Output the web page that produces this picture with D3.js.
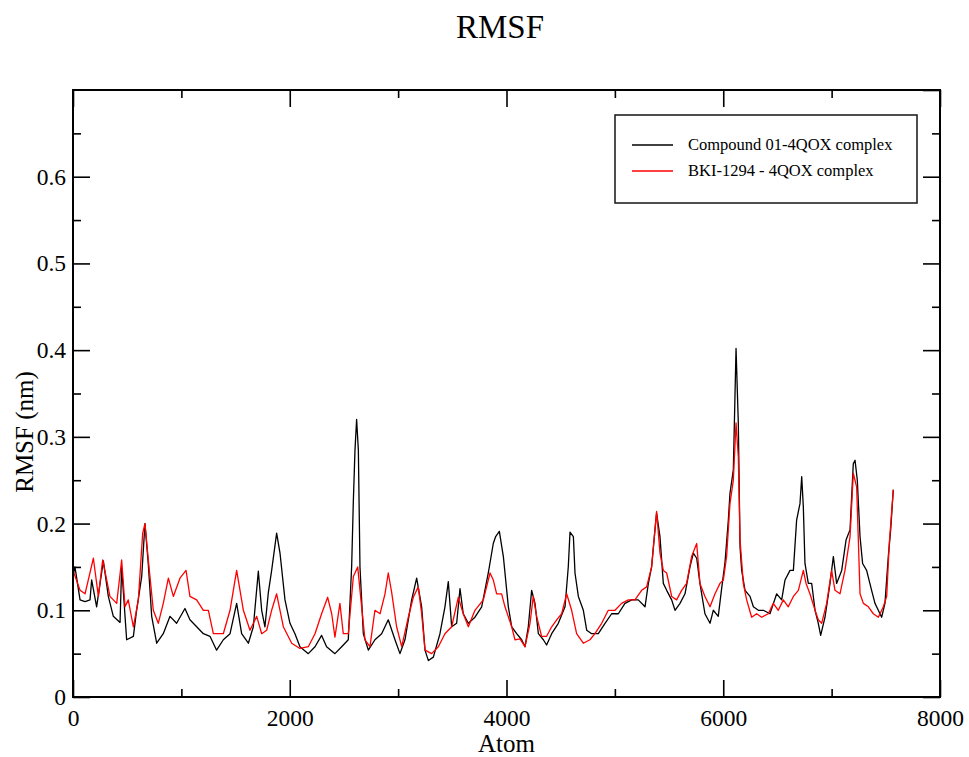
<!DOCTYPE html>
<html>
<head>
<meta charset="utf-8">
<script src="https://cdn.jsdelivr.net/npm/d3@7"></script>
<style>
    body { margin: 0; background: #fff; }
    svg text { font-family: "Liberation Serif", "DejaVu Serif", serif; fill: #000; }
</style>
</head>
<body>
<div id="chart"></div>
<script>
// [atom, rmsf (nm)]
const compound01 = [
    [0,0.140],[18,0.150],[65,0.112],[111,0.110],[157,0.112],[172,0.135],[218,0.104],[280,0.157],[326,0.116],[372,0.093],
    [434,0.086],[449,0.150],[495,0.066],[557,0.070],[587,0.100],[634,0.139],[664,0.200],[695,0.153],[726,0.093],[772,0.062],
    [833,0.073],[895,0.093],[956,0.085],[1033,0.102],[1079,0.089],[1141,0.081],[1203,0.073],[1264,0.070],[1325,0.054],[1387,0.066],
    [1449,0.073],[1510,0.108],[1556,0.073],[1618,0.062],[1664,0.081],[1710,0.145],[1741,0.100],[1771,0.081],[1802,0.120],[1833,0.146],
    [1879,0.189],[1910,0.166],[1956,0.112],[2002,0.085],[2048,0.073],
    [2094,0.058],[2171,0.050],[2233,0.058],[2294,0.071],[2340,0.058],[2417,0.050],[2479,0.058],[2540,0.066],[2571,0.150],[2587,0.227],
    [2602,0.285],[2617,0.320],[2633,0.285],[2648,0.150],[2679,0.073],[2725,0.054],[2786,0.066],[2848,0.073],[2909,0.089],[2971,0.066],
    [3017,0.050],[3063,0.066],[3125,0.112],[3171,0.137],[3217,0.104],[3248,0.054],[3279,0.042],[3325,0.046],[3386,0.073],[3432,0.104],
    [3463,0.133],[3494,0.081],[3540,0.085],[3571,0.125],[3601,0.096],[3648,0.085],[3709,0.092],[3771,0.104],[3832,0.143],[3878,0.177],
    [3900,0.185],[3934,0.191],[3971,0.162],[4017,0.104],
    [4048,0.081],[4094,0.073],[4140,0.066],[4171,0.058],[4201,0.081],[4232,0.123],[4263,0.108],[4294,0.073],[4340,0.066],[4370,0.060],
    [4417,0.073],[4478,0.085],[4540,0.104],[4570,0.150],[4586,0.190],[4617,0.185],[4632,0.143],[4663,0.116],[4709,0.100],[4740,0.077],
    [4786,0.073],[4847,0.073],[4909,0.085],[4970,0.096],[5032,0.096],[5093,0.108],[5155,0.112],[5216,0.112],[5278,0.104],[5309,0.131],
    [5339,0.150],[5370,0.193],[5385,0.212],[5416,0.185],[5447,0.131],[5478,0.123],[5524,0.112],[5555,0.100],[5601,0.108],[5647,0.119],
    [5693,0.150],[5724,0.166],[5755,0.160],[5785,0.131],[5831,0.096],[5878,0.085],[5908,0.100],[5954,0.093],[5985,0.125],[6016,0.155],
    [6047,0.204],
    [6062,0.235],[6093,0.262],[6108,0.346],[6118,0.402],[6139,0.316],[6155,0.173],[6170,0.146],[6201,0.123],[6247,0.116],[6278,0.104],
    [6324,0.100],[6370,0.100],[6431,0.096],[6493,0.119],[6539,0.112],[6570,0.135],[6616,0.146],[6647,0.146],[6677,0.204],[6708,0.223],
    [6724,0.254],[6739,0.219],[6754,0.154],[6785,0.131],[6816,0.131],[6847,0.100],[6877,0.085],[6899,0.071],[6939,0.092],[6985,0.131],
    [7016,0.162],[7046,0.131],[7093,0.146],[7133,0.181],[7170,0.193],[7200,0.269],[7216,0.273],[7237,0.250],[7262,0.185],[7286,0.154],
    [7323,0.146],[7369,0.123],[7400,0.108],[7431,0.100],[7462,0.092],[7492,0.108],[7523,0.162],[7545,0.193],[7569,0.239]
];

const bki1294 = [
    [0,0.146],[65,0.123],[111,0.119],[188,0.160],[234,0.116],[274,0.158],[341,0.116],[403,0.108],[449,0.158],[480,0.104],
    [510,0.112],[557,0.081],[603,0.112],[643,0.189],[664,0.200],[695,0.158],[741,0.100],[787,0.085],[833,0.108],[880,0.137],
    [926,0.116],[987,0.137],[1043,0.146],[1079,0.116],[1141,0.112],[1203,0.100],[1249,0.100],[1295,0.073],[1387,0.073],[1449,0.100],
    [1510,0.146],[1572,0.100],[1633,0.077],[1695,0.093],[1741,0.073],[1787,0.077],[1833,0.100],[1879,0.119],[1941,0.081],[2018,0.062],
    [2094,0.056],[2171,0.058],[2233,0.073],[2294,0.096],[2350,0.115],[2387,0.096],[2417,0.069],[2463,0.108],[2494,0.073],[2540,0.073],
    [2587,0.139],[2627,0.150],[2657,0.112],[2694,0.066],[2740,0.058],[2786,0.100],[2833,0.096],[2879,0.119],[2909,0.143],[2940,0.121],
    [2986,0.081],[3033,0.058],[3094,0.092],[3140,0.115],[3186,0.127],[3217,0.096],[3248,0.054],[3309,0.050],[3371,0.058],[3432,0.073],
    [3494,0.081],[3555,0.115],[3601,0.096],[3648,0.081],[3709,0.100],[3786,0.112],[3848,0.143],[3878,0.135],[3909,0.119],[3955,0.119],
    [3986,0.104],
    [4048,0.081],[4078,0.066],[4124,0.067],[4171,0.058],[4217,0.085],[4247,0.116],[4278,0.093],[4324,0.070],[4370,0.070],[4417,0.081],
    [4463,0.089],[4509,0.096],[4555,0.119],[4601,0.100],[4647,0.073],[4709,0.062],[4770,0.066],[4816,0.073],[4878,0.085],[4939,0.100],
    [5001,0.100],[5062,0.108],[5124,0.112],[5185,0.112],[5247,0.123],[5293,0.127],[5339,0.150],[5385,0.214],[5416,0.166],[5447,0.146],
    [5478,0.143],[5524,0.116],[5570,0.112],[5616,0.123],[5662,0.131],[5708,0.162],[5755,0.177],[5785,0.131],[5831,0.116],[5878,0.104],
    [5924,0.119],[5970,0.131],[6001,0.135],[6031,0.162],
    [6062,0.223],[6093,0.250],[6118,0.316],[6139,0.277],[6155,0.181],[6185,0.131],[6216,0.112],[6262,0.092],[6308,0.096],[6354,0.092],
    [6416,0.096],[6462,0.108],[6508,0.100],[6554,0.112],[6600,0.104],[6647,0.116],[6693,0.123],[6739,0.146],[6764,0.131],[6800,0.119],
    [6847,0.100],[6877,0.089],[6908,0.085],[6954,0.108],[7000,0.146],[7031,0.123],[7077,0.119],[7123,0.146],[7170,0.185],[7200,0.258],
    [7231,0.242],[7262,0.119],[7293,0.108],[7339,0.104],[7385,0.096],[7431,0.092],[7477,0.104],[7508,0.116],[7532,0.177],[7569,0.239]
];

const seriesNames = ["Compound 01-4QOX complex", "BKI-1294 - 4QOX complex"];
const seriesColors = ["#000000", "#ff0000"];

const xMajor = [0, 2000, 4000, 6000, 8000];
const xMinor = [1000, 3000, 5000, 7000];
const yMajor = [0, 0.1, 0.2, 0.3, 0.4, 0.5, 0.6];
const yMinor = [0.05, 0.15, 0.25, 0.35, 0.45, 0.55, 0.65];

const W = 969, H = 757;
const margin = { top: 90, right: 29, bottom: 60, left: 73 };
const width = W - margin.left - margin.right;
const height = H - margin.top - margin.bottom;

const svg = d3.select("#chart")
    .append("svg")
    .attr("width", W)
    .attr("height", H);

// title
svg.append("text")
    .attr("x", 500)
    .attr("y", 38)
    .attr("text-anchor", "middle")
    .style("font-size", "33px")
    .text("RMSF");

const g = svg.append("g")
    .attr("transform", `translate(${margin.left}, ${margin.top})`);

const xScale = d3.scaleLinear().domain([0, 8000]).range([0, width]);
const yScale = d3.scaleLinear().domain([0, 0.7]).range([height, 0]);

// lines (black under red)
const line = d3.line()
    .x(d => xScale(d[0]))
    .y(d => yScale(d[1]));

[compound01, bki1294].forEach((s, i) => {
    g.append("path")
        .datum(s)
        .attr("fill", "none")
        .attr("stroke", seriesColors[i])
        .attr("stroke-width", 1.3)
        .attr("stroke-linejoin", "round")
        .attr("d", line);
});

// axes: ticks point inward on all four sides
function styleAxis(sel, fontSize) {
    sel.select(".domain").remove();
    sel.selectAll("line").attr("stroke", "#000").attr("stroke-width", 1.6);
    sel.selectAll("text").style("font-size", fontSize).attr("fill", "#000");
}

const fmtY = d => d === 0 ? "0" : d3.format(".1f")(d);
const tickFont = "23.5px";

g.append("g")
    .attr("transform", `translate(0, ${height})`)
    .call(d3.axisBottom(xScale).tickValues(xMajor).tickFormat(d3.format("d")).tickSize(-17).tickPadding(12))
    .call(s => styleAxis(s, tickFont));
g.append("g")
    .attr("transform", `translate(0, ${height})`)
    .call(d3.axisBottom(xScale).tickValues(xMinor).tickFormat("").tickSize(-8))
    .call(s => styleAxis(s, tickFont));
g.append("g")
    .call(d3.axisTop(xScale).tickValues(xMajor).tickFormat("").tickSize(-17))
    .call(s => styleAxis(s, tickFont));
g.append("g")
    .call(d3.axisTop(xScale).tickValues(xMinor).tickFormat("").tickSize(-8))
    .call(s => styleAxis(s, tickFont));

g.append("g")
    .call(d3.axisLeft(yScale).tickValues(yMajor).tickFormat(fmtY).tickSize(-17).tickPadding(7))
    .call(s => styleAxis(s, tickFont));
g.append("g")
    .call(d3.axisLeft(yScale).tickValues(yMinor).tickFormat("").tickSize(-8))
    .call(s => styleAxis(s, tickFont));
g.append("g")
    .attr("transform", `translate(${width}, 0)`)
    .call(d3.axisRight(yScale).tickValues(yMajor.concat([0.7])).tickFormat("").tickSize(-17))
    .call(s => styleAxis(s, tickFont));
g.append("g")
    .attr("transform", `translate(${width}, 0)`)
    .call(d3.axisRight(yScale).tickValues(yMinor).tickFormat("").tickSize(-8))
    .call(s => styleAxis(s, tickFont));

// frame
g.append("rect")
    .attr("width", width)
    .attr("height", height)
    .attr("fill", "none")
    .attr("stroke", "#000")
    .attr("stroke-width", 2);

// axis labels
svg.append("text")
    .attr("x", margin.left + width / 2)
    .attr("y", 752)
    .attr("text-anchor", "middle")
    .style("font-size", "25px")
    .text("Atom");

svg.append("text")
    .attr("transform", "translate(33, 432) rotate(-90)")
    .attr("text-anchor", "middle")
    .style("font-size", "25px")
    .text("RMSF (nm)");

// legend
const legend = svg.append("g").attr("transform", "translate(615, 115)");
legend.append("rect")
    .attr("width", 302)
    .attr("height", 88)
    .attr("fill", "#fff")
    .attr("stroke", "#222")
    .attr("stroke-width", 1.6);

seriesNames.forEach((name, i) => {
    const y = 30 + i * 26;
    legend.append("line")
        .attr("x1", 17).attr("x2", 58)
        .attr("y1", y).attr("y2", y)
        .attr("stroke", seriesColors[i])
        .attr("stroke-width", 1.3);
    legend.append("text")
        .attr("x", 73)
        .attr("y", y + 5)
        .style("font-size", "16.5px")
        .text(name);
});
</script>
</body>
</html>
